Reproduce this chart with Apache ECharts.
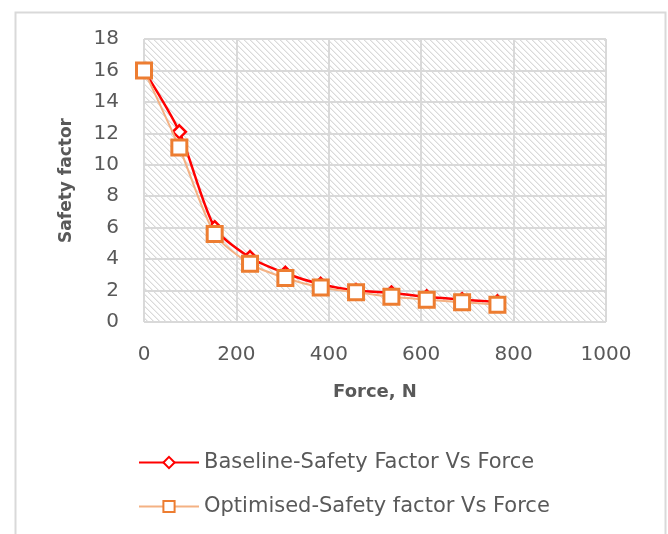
<!DOCTYPE html>
<html>
<head>
<meta charset="utf-8">
<style>
  html, body { margin: 0; padding: 0; background: #fff; }
  #chart { width: 668px; height: 534px; }
</style>
<script src="https://cdn.jsdelivr.net/npm/echarts@6/dist/echarts.min.js"></script>
</head>
<body>
<div id="chart"></div>
<script>
// Applied force (N) and the resulting safety factors
const force = [0, 76.5, 153, 229.5, 306, 382.5, 459, 535.5, 612, 688.5, 765];
const baselineSF = [16, 12.1, 6.0, 4.1, 3.1, 2.4, 2.0, 1.85, 1.6, 1.42, 1.28];
const optimisedSF = [16, 11.1, 5.6, 3.7, 2.8, 2.2, 1.9, 1.6, 1.42, 1.26, 1.1];
const seriesNames = ['Baseline-Safety Factor Vs Force', 'Optimised-Safety factor Vs Force'];

const FONT = 'DejaVu Sans';
const TEXT = '#595959';
const GRID = '#d9d9d9';

// Downward-diagonal hatch used as the plot-area fill
function hatchPattern() {
  const n = 6;
  const c = document.createElement('canvas');
  c.width = n; c.height = n;
  const ctx = c.getContext('2d');
  ctx.fillStyle = '#ffffff';
  ctx.fillRect(0, 0, n, n);
  for (let y = 0; y < n; y++) {
    for (let x = 0; x < n; x++) {
      const d = ((x - y) % n + n) % n;
      if (d === 0) { ctx.fillStyle = '#dadada'; ctx.fillRect(x, y, 1, 1); }
      else if (d === 1) { ctx.fillStyle = '#eeeeee'; ctx.fillRect(x, y, 1, 1); }
    }
  }
  return { image: c, repeat: 'repeat' };
}

const pairs = arr => force.map((f, i) => [f, arr[i]]);

const chart = echarts.init(document.getElementById('chart'), null, { renderer: 'canvas' });
chart.setOption({
  animation: false,
  backgroundColor: '#ffffff',
  textStyle: { fontFamily: FONT },
  graphic: [{
    type: 'rect',
    left: 13, top: 10,
    shape: { width: 650, height: 540 },
    style: { fill: 'none', stroke: GRID, lineWidth: 2 },
    silent: true,
    z: -10
  }],
  grid: {
    left: 144, right: 62, top: 39, bottom: 212,
    show: true,
    backgroundColor: hatchPattern(),
    borderWidth: 0
  },
  legend: {
    orient: 'vertical',
    left: 133, top: 447,
    itemGap: 23,
    itemWidth: 60, itemHeight: 14,
    data: seriesNames,
    textStyle: { fontFamily: FONT, fontSize: 21, color: TEXT }
  },
  xAxis: {
    type: 'value',
    min: 0, max: 1000, interval: 200,
    name: 'Force, N',
    nameLocation: 'middle',
    nameGap: 61,
    nameTextStyle: { fontFamily: FONT, fontSize: 18, fontWeight: 'bold', color: TEXT },
    axisLine: { show: false },
    axisTick: { show: false },
    axisLabel: { fontFamily: FONT, fontSize: 20, color: TEXT, margin: 23, formatter: v => String(v) },
    splitLine: { show: true, lineStyle: { color: GRID, width: 2 } }
  },
  yAxis: {
    type: 'value',
    min: 0, max: 18, interval: 2,
    name: 'Safety factor',
    nameLocation: 'middle',
    nameGap: 69,
    nameTextStyle: { fontFamily: FONT, fontSize: 17, fontWeight: 'bold', color: TEXT },
    axisLine: { show: false },
    axisTick: { show: false },
    axisLabel: { fontFamily: FONT, fontSize: 20, color: TEXT, margin: 25 },
    splitLine: { show: true, lineStyle: { color: GRID, width: 2 } }
  },
  series: [
    {
      name: seriesNames[0],
      type: 'line',
      data: pairs(baselineSF),
      smooth: 0.25,
      symbol: 'diamond',
      symbolSize: 13,
      lineStyle: { color: '#ff0000', width: 2.5 },
      itemStyle: { color: '#ffffff', borderColor: '#ff0000', borderWidth: 2.5 },
      z: 2
    },
    {
      name: seriesNames[1],
      type: 'line',
      data: pairs(optimisedSF),
      smooth: 0.25,
      symbol: 'rect',
      symbolSize: 15,
      lineStyle: { color: '#f4b183', width: 2 },
      itemStyle: { color: '#ffffff', borderColor: '#ed7d31', borderWidth: 3 },
      z: 3
    }
  ]
});
</script>
</body>
</html>
